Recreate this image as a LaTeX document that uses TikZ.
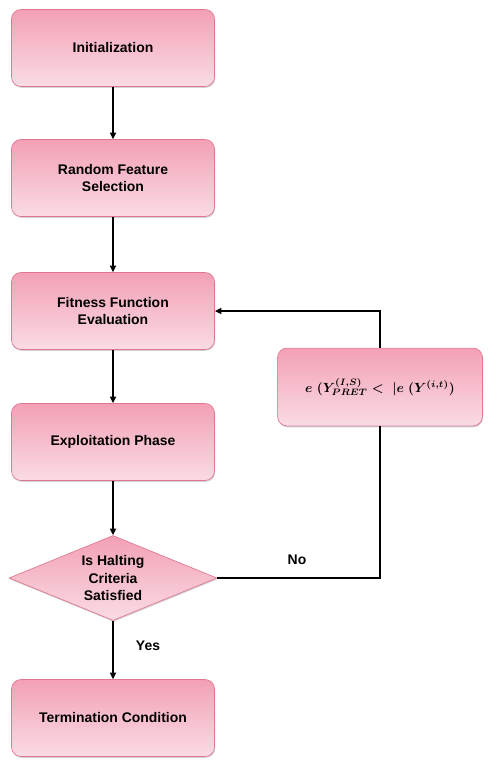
\documentclass[tikz,border=0pt]{standalone}
\usepackage{fontspec}
\setmainfont{Liberation Sans}
\usepackage{amsmath}
\usetikzlibrary{shapes.geometric,shadows,arrows.meta}

\definecolor{pinktop}{RGB}{243,160,181}
\definecolor{pinkbot}{RGB}{250,220,228}
\definecolor{pinkedge}{RGB}{222,120,145}

\tikzset{
  stepbox/.style={rectangle, rounded corners=0.25cm, minimum width=5.371cm, minimum height=2.037cm,
    top color=pinktop, bottom color=pinkbot, draw=pinkedge, line width=0.5pt,
    preaction={draw=white, line width=3pt},
    drop shadow={shadow xshift=0.5pt, shadow yshift=-1pt, opacity=0.35},
    align=center, font=\fontsize{10.5}{13}\selectfont\bfseries},
  decide/.style={diamond, aspect=2.44, inner sep=0pt, minimum width=5.50cm, minimum height=2.25cm,
    top color=pinktop, bottom color=pinkbot, draw=pinkedge, line width=0.5pt,
    preaction={draw=white, line width=3pt},
    drop shadow={shadow xshift=0.5pt, shadow yshift=-1pt, opacity=0.35},
    align=center, font=\fontsize{10.5}{13.5}\selectfont\bfseries},
  flow/.style={line width=1.5pt, -{Triangle[length=5pt,width=4.5pt]}},
  tag/.style={font=\fontsize{10.5}{13}\selectfont\bfseries}
}

\begin{document}
\begin{tikzpicture}
\useasboundingbox (0,0) rectangle (12.992,-20.321);
% main column
\node[stepbox] (init) at (2.990,-1.270) {Initialization};
\node[stepbox] (rfs) at (2.990,-4.710) {Random Feature\\Selection};
\node[stepbox] (fit) at (2.990,-8.229) {Fitness Function\\Evaluation};
\node[stepbox] (expl) at (2.990,-11.695) {Exploitation Phase};
\node[decide] (halt) at (2.990,-15.294) {Is Halting\\Criteria\\Satisfied};
\node[stepbox] (term) at (2.990,-18.998) {Termination Condition};
% feedback box
\node[stepbox, minimum width=5.42cm, minimum height=2.06cm, font=\fontsize{10}{12}\selectfont\boldmath] (cond) at (10.055,-10.240)
  {$e\;(Y^{(I,S)}_{PRET} < \;|e\;(Y^{(i,t)})$};
% arrows
\draw[flow] (init) -- (rfs);
\draw[flow] (rfs) -- (fit);
\draw[flow] (fit) -- (expl);
\draw[flow] (expl) -- (halt);
\draw[flow] (halt) -- (term);
\draw[line width=1.5pt] (halt.east) -| (cond.south);
\draw[flow] (cond.north) |- (fit.east);
% labels
\node[tag] (no) at (7.858,-14.817) {No};
\node[tag] (yes) at (3.916,-17.093) {Yes};
\end{tikzpicture}
\end{document}
